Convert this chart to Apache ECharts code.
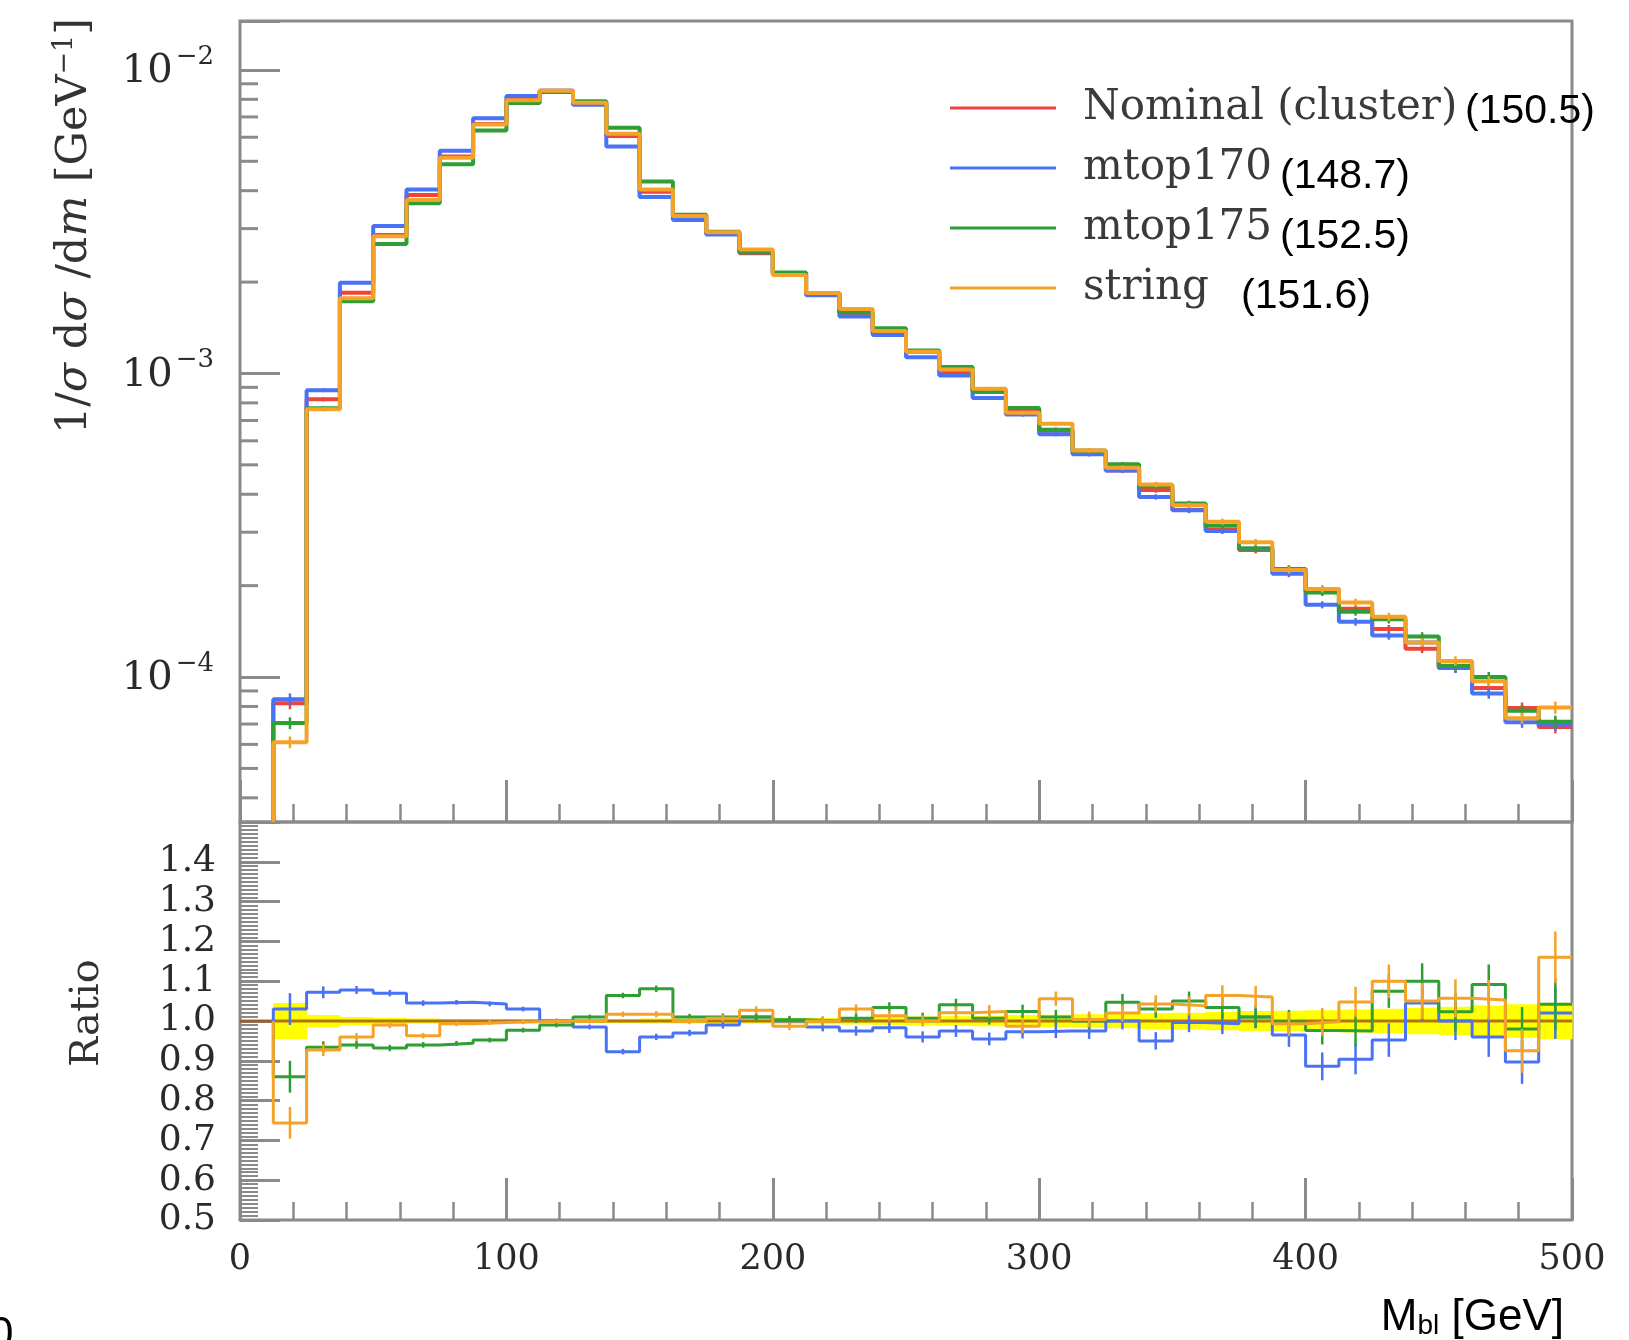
<!DOCTYPE html>
<html><head><meta charset="utf-8">
<script src="https://cdn.jsdelivr.net/npm/echarts@6/dist/echarts.min.js"></script>
<style>html,body{margin:0;padding:0;background:#fff;}#c{width:1629px;height:1340px;}</style>
</head><body><div id="c"></div>
<script>
// ---------------- data ----------------
const binEdges = [12.5,25,37.5,50,62.5,75,87.5,100,112.5,125,137.5,150,162.5,175,187.5,200,212.5,225,237.5,250,262.5,275,287.5,300,312.5,325,337.5,350,362.5,375,387.5,400,412.5,425,437.5,450,462.5,475,487.5,500];

const nominal = [8.2e-5,8.22e-4,1.845e-3,2.86e-3,3.87e-3,5.18e-3,6.64e-3,7.96e-3,8.54e-3,7.8e-3,6.06e-3,3.97e-3,3.30e-3,2.90e-3,2.49e-3,2.14e-3,1.84e-3,1.58e-3,1.36e-3,1.18e-3,1.01e-3,8.69e-4,7.52e-4,6.47e-4,5.56e-4,4.79e-4,4.13e-4,3.55e-4,3.05e-4,2.62e-4,2.27e-4,1.95e-4,1.68e-4,1.44e-4,1.24e-4,1.07e-4,9.20e-5,7.91e-5,6.84e-5];
const mtop170 = [8.45e-5,8.81e-4,1.99e-3,3.06e-3,4.04e-3,5.42e-3,6.93e-3,8.20e-3,8.54e-3,7.68e-3,5.59e-3,3.81e-3,3.20e-3,2.87e-3,2.51e-3,2.14e-3,1.81e-3,1.54e-3,1.34e-3,1.13e-3,9.85e-4,8.30e-4,7.32e-4,6.31e-4,5.42e-4,4.79e-4,3.92e-4,3.54e-4,3.03e-4,2.65e-4,2.19e-4,1.73e-4,1.52e-4,1.37e-4,1.30e-4,1.07e-4,8.83e-5,7.10e-5,6.98e-5];
const mtop175 = [7.05e-5,7.68e-4,1.73e-3,2.67e-3,3.64e-3,4.89e-3,6.32e-3,7.78e-3,8.45e-3,7.88e-3,6.45e-3,4.29e-3,3.33e-3,2.93e-3,2.51e-3,2.15e-3,1.84e-3,1.59e-3,1.41e-3,1.19e-3,1.05e-3,8.75e-4,7.70e-4,6.53e-4,5.56e-4,5.02e-4,4.25e-4,3.73e-4,3.15e-4,2.65e-4,2.27e-4,1.90e-4,1.64e-4,1.55e-4,1.36e-4,1.09e-4,1.00e-4,7.75e-5,7.13e-5];
const stringHad = [6.10e-5,7.62e-4,1.77e-3,2.83e-3,3.73e-3,5.14e-3,6.61e-3,7.94e-3,8.54e-3,7.80e-3,6.16e-3,4.04e-3,3.30e-3,2.92e-3,2.56e-3,2.11e-3,1.84e-3,1.63e-3,1.38e-3,1.18e-3,1.03e-3,8.90e-4,7.42e-4,6.83e-4,5.58e-4,4.89e-4,4.31e-4,3.68e-4,3.25e-4,2.78e-4,2.25e-4,1.95e-4,1.76e-4,1.58e-4,1.30e-4,1.13e-4,9.69e-5,7.32e-5,7.93e-5];

const ratio170 = [1.03,1.072,1.078,1.07,1.045,1.047,1.043,1.03,1.0,0.985,0.923,0.96,0.97,0.99,1.01,1.0,0.985,0.975,0.983,0.96,0.975,0.955,0.973,0.975,0.975,1.0,0.95,0.996,0.993,1.01,0.965,0.886,0.904,0.952,1.045,1.0,0.96,0.897,1.02];
const ratio175 = [0.86,0.934,0.94,0.932,0.94,0.944,0.952,0.977,0.99,1.01,1.064,1.081,1.01,1.01,1.01,1.003,1.0,1.007,1.034,1.007,1.041,1.007,1.024,1.01,1.0,1.047,1.03,1.05,1.034,1.01,0.998,0.976,0.975,1.075,1.1,1.023,1.092,0.98,1.042];
const ratioString = [0.744,0.927,0.96,0.99,0.963,0.993,0.996,0.998,1.0,1.0,1.017,1.017,1.0,1.007,1.027,0.987,1.0,1.03,1.013,1.0,1.021,1.024,0.987,1.056,1.004,1.02,1.043,1.038,1.064,1.06,0.993,0.998,1.048,1.1,1.05,1.057,1.053,0.925,1.16];

const bandHalf = [0.045,0.015,0.01,0.008,0.006,0.005,0.005,0.005,0.005,0.005,0.005,0.006,0.006,0.007,0.007,0.008,0.008,0.009,0.01,0.011,0.012,0.013,0.015,0.016,0.017,0.018,0.02,0.021,0.023,0.025,0.026,0.027,0.029,0.031,0.033,0.036,0.039,0.042,0.046];
const ratioErr = [0.04,0.015,0.01,0.008,0.007,0.006,0.006,0.006,0.006,0.006,0.007,0.008,0.008,0.009,0.01,0.01,0.011,0.012,0.013,0.014,0.015,0.016,0.017,0.018,0.02,0.021,0.022,0.024,0.026,0.028,0.03,0.035,0.038,0.042,0.045,0.048,0.05,0.055,0.065];

const legendNames = ['Nominal (cluster)','mtop170','mtop175','string'];
const legendValues = ['(150.5)','(148.7)','(152.5)','(151.6)'];
const colors = ['#f0433a','#4a72f5','#2f9e34','#f5a328'];

const xMin = 0, xMax = 500, xInterval = 100;
const yTopMin = 3.33e-5, yTopMax = 1.449e-2;
const yRatioMin = 0.5, yRatioMax = 1.5, yRatioInterval = 0.1;

// ---------------- helpers ----------------
const frameColor = '#8a8a8a';
function stepData(vals, startVal) {
  const d = [[binEdges[0], startVal]];
  vals.forEach((v, i) => d.push([binEdges[i], v]));
  d.push([binEdges[vals.length], vals[vals.length - 1]]);
  return d;
}
function errData(vals, errs) {
  return vals.map((v, i) => [(binEdges[i] + binEdges[i + 1]) / 2, v, errs[i]]);
}
function errRender(color, lw, isLog) {
  return function (params, api) {
    const x = api.value(0), v = api.value(1), e = api.value(2);
    const hi = isLog ? v * (1 + e) : v + e;
    const lo = isLog ? v * (1 - e) : v - e;
    const p1 = api.coord([x, hi]), p2 = api.coord([x, lo]);
    return {type: 'line', shape: {x1: p1[0], y1: p1[1], x2: p2[0], y2: p2[1]}, style: {stroke: color, lineWidth: lw}};
  };
}
const logMinorTicks = [];
for (let d = -5; d <= -2; d++) for (let m = 2; m <= 9; m++) {
  const v = m * Math.pow(10, d);
  if (v > yTopMin && v < yTopMax) logMinorTicks.push([0, v]);
}

const topSets = [nominal, mtop170, mtop175, stringHad];
const ratioSets = [null, ratio170, ratio175, ratioString];

const series = [];
topSets.forEach((vals, k) => {
  series.push({
    name: legendNames[k], type: 'line', xAxisIndex: 0, yAxisIndex: 0, step: 'end',
    data: stepData(vals, yTopMin), symbol: 'none', showSymbol: false,
    lineStyle: {color: colors[k], width: 4}, itemStyle: {color: colors[k]}, z: 3 + k
  });
});
topSets.forEach((vals, k) => {
  series.push({
    type: 'custom', xAxisIndex: 0, yAxisIndex: 0, data: errData(vals, bandHalf),
    encode: {x: 0, y: 1}, renderItem: errRender(colors[k], 2.5, true), z: 3 + k, silent: true
  });
});
series.push({
  type: 'custom', xAxisIndex: 0, yAxisIndex: 0, data: logMinorTicks, encode: {x: 0, y: 1}, silent: true, z: 1,
  renderItem: (params, api) => {
    const p = api.coord([0, api.value(1)]);
    return {type: 'line', shape: {x1: p[0], y1: p[1], x2: p[0] + 18, y2: p[1]}, style: {stroke: frameColor, lineWidth: 3}};
  }
});
series.push({
  type: 'custom', xAxisIndex: 1, yAxisIndex: 1, silent: true, z: 2,
  data: bandHalf.map((b, i) => [binEdges[i], binEdges[i + 1], b]),
  encode: {x: [0, 1], y: 2},
  renderItem: (params, api) => {
    const lo = api.value(0), hi = api.value(1), b = api.value(2);
    const p1 = api.coord([lo, 1 + b]), p2 = api.coord([hi, 1 - b]);
    return {type: 'rect', shape: {x: p1[0], y: p1[1], width: p2[0] - p1[0] + 0.6, height: p2[1] - p1[1]}, style: {fill: '#ffff00'}};
  }
});
series.push({
  type: 'line', xAxisIndex: 1, yAxisIndex: 1, data: [[xMin, 1], [xMax, 1]], symbol: 'none',
  lineStyle: {color: 'rgba(160,82,20,0.8)', width: 3}, z: 3, silent: true
});
[1, 2, 3].forEach(k => {
  series.push({
    name: legendNames[k], type: 'line', xAxisIndex: 1, yAxisIndex: 1, step: 'end',
    data: stepData(ratioSets[k], 1), symbol: 'none', showSymbol: false,
    lineStyle: {color: colors[k], width: 3}, itemStyle: {color: colors[k]}, z: 4 + k
  });
  series.push({
    type: 'custom', xAxisIndex: 1, yAxisIndex: 1, data: errData(ratioSets[k], ratioErr),
    encode: {x: 0, y: 1}, renderItem: errRender(colors[k], 2.5, false), z: 4 + k, silent: true
  });
});

const serif = 'DejaVu Serif';
const sans = 'Liberation Sans';
const tickStyle = {color: frameColor, width: 3};

const option = {
  animation: false,
  backgroundColor: '#ffffff',
  textStyle: {fontFamily: serif},
  grid: [
    {left: 240, top: 21, width: 1332, height: 801, show: true, borderColor: frameColor, borderWidth: 3, backgroundColor: 'transparent'},
    {left: 240, top: 822, width: 1332, height: 398, show: true, borderColor: frameColor, borderWidth: 3, backgroundColor: 'transparent'}
  ],
  xAxis: [
    {gridIndex: 0, type: 'value', min: xMin, max: xMax, interval: xInterval,
     axisLine: {show: false}, splitLine: {show: false},
     axisTick: {show: true, inside: true, length: 42, lineStyle: tickStyle},
     minorTick: {show: true, splitNumber: 5, length: 18, lineStyle: {color: frameColor, width: 2.5}},
     axisLabel: {show: false}},
    {gridIndex: 1, type: 'value', min: xMin, max: xMax, interval: xInterval,
     axisLine: {show: false}, splitLine: {show: false},
     axisTick: {show: true, inside: true, length: 42, lineStyle: tickStyle},
     minorTick: {show: true, splitNumber: 5, length: 18, lineStyle: {color: frameColor, width: 2.5}},
     axisLabel: {show: true, margin: 22, fontFamily: serif, fontSize: 35, color: '#2a2a2a'}}
  ],
  yAxis: [
    {gridIndex: 0, type: 'log', logBase: 10, min: yTopMin, max: yTopMax,
     axisLine: {show: false}, splitLine: {show: false},
     axisTick: {show: true, inside: true, length: 40, lineStyle: tickStyle},
     axisLabel: {
       margin: 26,
       formatter: v => { const e = Math.log10(v); const r = Math.round(e); if (Math.abs(e - r) > 1e-6) return ''; return '{b|10}{s|−' + (-r) + '}'; },
       rich: {
         b: {fontFamily: serif, fontSize: 40, color: '#2a2a2a', verticalAlign: 'bottom', lineHeight: 44},
         s: {fontFamily: serif, fontSize: 26, color: '#2a2a2a', verticalAlign: 'bottom', lineHeight: 44, padding: [0, 0, 22, 3]}
       }
     }},
    {gridIndex: 1, type: 'value', min: yRatioMin, max: yRatioMax, interval: yRatioInterval,
     axisLine: {show: false}, splitLine: {show: false},
     axisTick: {show: true, inside: true, length: 40, lineStyle: tickStyle},
     minorTick: {show: true, splitNumber: 10, length: 18, lineStyle: {color: frameColor, width: 2}},
     axisLabel: {margin: 24, fontFamily: serif, fontSize: 36, color: '#2a2a2a',
       formatter: v => (v > 1.45 ? '' : v.toFixed(1))}}
  ],
  legend: {
    orient: 'vertical', left: 945, top: 78, itemWidth: 106, itemHeight: 3, itemGap: 10,
    icon: 'rect', selectedMode: false, data: legendNames,
    textStyle: {fontFamily: serif, fontSize: 42, color: '#3a3a3a', lineHeight: 50, padding: [0, 0, 0, 22]}
  },
  graphic: [
    {type: 'text', x: 72, y: 226, rotation: Math.PI / 2, z: 100,
     style: {
       text: '{n|1/}{i|σ}{n| d}{i|σ}{n| /d}{i|m}{n| [GeV}{s|−1}{n|]}',
       align: 'center', verticalAlign: 'middle', textAlign: 'center', textVerticalAlign: 'middle',
       rich: {
         n: {fontFamily: serif, fontSize: 43, fill: '#333', verticalAlign: 'bottom', lineHeight: 48},
         i: {fontFamily: serif, fontStyle: 'italic', fontSize: 43, fill: '#333', verticalAlign: 'bottom', lineHeight: 48},
         s: {fontFamily: serif, fontSize: 27, fill: '#333', verticalAlign: 'bottom', lineHeight: 48, padding: [0, 0, 18, 0]}
       }
     }},
    {type: 'text', x: 88, y: 1013, rotation: Math.PI / 2, z: 100,
     style: {text: 'Ratio', fontFamily: serif, fontSize: 40, fill: '#333', align: 'center', verticalAlign: 'middle', textAlign: 'center', textVerticalAlign: 'middle'}},
    {type: 'text', x: 1564, y: 1315, z: 100,
     style: {
       text: '{m|M}{s|bl}{m| [GeV]}', align: 'right', verticalAlign: 'middle', textAlign: 'right', textVerticalAlign: 'middle',
       rich: {
         m: {fontFamily: sans, fontSize: 44, fill: '#000', verticalAlign: 'bottom', lineHeight: 50},
         s: {fontFamily: sans, fontSize: 28, fill: '#000', verticalAlign: 'bottom', lineHeight: 38}
       }
     }},
    {type: 'text', x: 1465, y: 112, z: 100, style: {text: legendValues[0], fontFamily: sans, fontSize: 41, fill: '#000', verticalAlign: 'middle', textVerticalAlign: 'middle'}},
    {type: 'text', x: 1280, y: 177, z: 100, style: {text: legendValues[1], fontFamily: sans, fontSize: 41, fill: '#000', verticalAlign: 'middle', textVerticalAlign: 'middle'}},
    {type: 'text', x: 1280, y: 237, z: 100, style: {text: legendValues[2], fontFamily: sans, fontSize: 41, fill: '#000', verticalAlign: 'middle', textVerticalAlign: 'middle'}},
    {type: 'text', x: 1241, y: 297, z: 100, style: {text: legendValues[3], fontFamily: sans, fontSize: 41, fill: '#000', verticalAlign: 'middle', textVerticalAlign: 'middle'}},
    {type: 'text', x: -11, y: 1314, z: 100, style: {text: '0', fontFamily: sans, fontSize: 44, fill: '#000', verticalAlign: 'top', textVerticalAlign: 'top'}}
  ],
  series: series
};

const chart = echarts.init(document.getElementById('c'), null, {renderer: 'canvas'});
chart.setOption(option);
</script>
</body></html>
